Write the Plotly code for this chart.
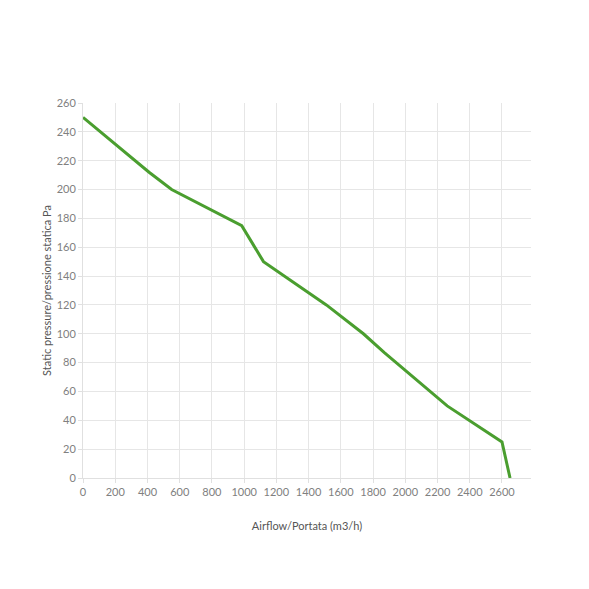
import plotly.graph_objects as go

airflow = [0, 410, 550, 985, 1120, 1510, 1740, 1870, 2260, 2600, 2650]
pressure = [250, 212, 200, 175, 150, 120, 100, 87, 50, 25, 0]

x_ticks = list(range(0, 2601, 200))
y_ticks = list(range(0, 261, 20))

fig = go.Figure()
fig.add_trace(go.Scatter(x=airflow, y=pressure, mode="lines",
                         line=dict(color="#4a9e2f", width=3), hoverinfo="x+y"))

axis_font = dict(family="Lato, sans-serif", size=11, color="#808080")
title_font = dict(family="Lato, sans-serif", size=11, color="#555555")
fig.update_layout(
    width=589, height=589,
    margin=dict(l=75, r=66, t=95, b=119, autoexpand=False),
    paper_bgcolor="white", plot_bgcolor="white",
    showlegend=False,
    xaxis=dict(range=[0, 2780], tickvals=x_ticks, showgrid=True, gridcolor="#e6e6e6",
               zeroline=False, showline=True, linecolor="#e0e0e0",
               ticks="outside", ticklen=4, tickcolor="#e0e0e0",
               tickfont=axis_font,
               title=dict(text="Airflow/Portata (m3/h)", standoff=25, font=title_font)),
    yaxis=dict(range=[0, 260], tickvals=y_ticks, showgrid=True, gridcolor="#e6e6e6",
               zeroline=False, showline=True, linecolor="#e0e0e0",
               ticks="outside", ticklen=4, tickcolor="#e0e0e0",
               tickfont=axis_font,
               title=dict(text="Static pressure/pressione statica Pa", standoff=2, font=title_font)),
)
fig.write_html("out.html")
